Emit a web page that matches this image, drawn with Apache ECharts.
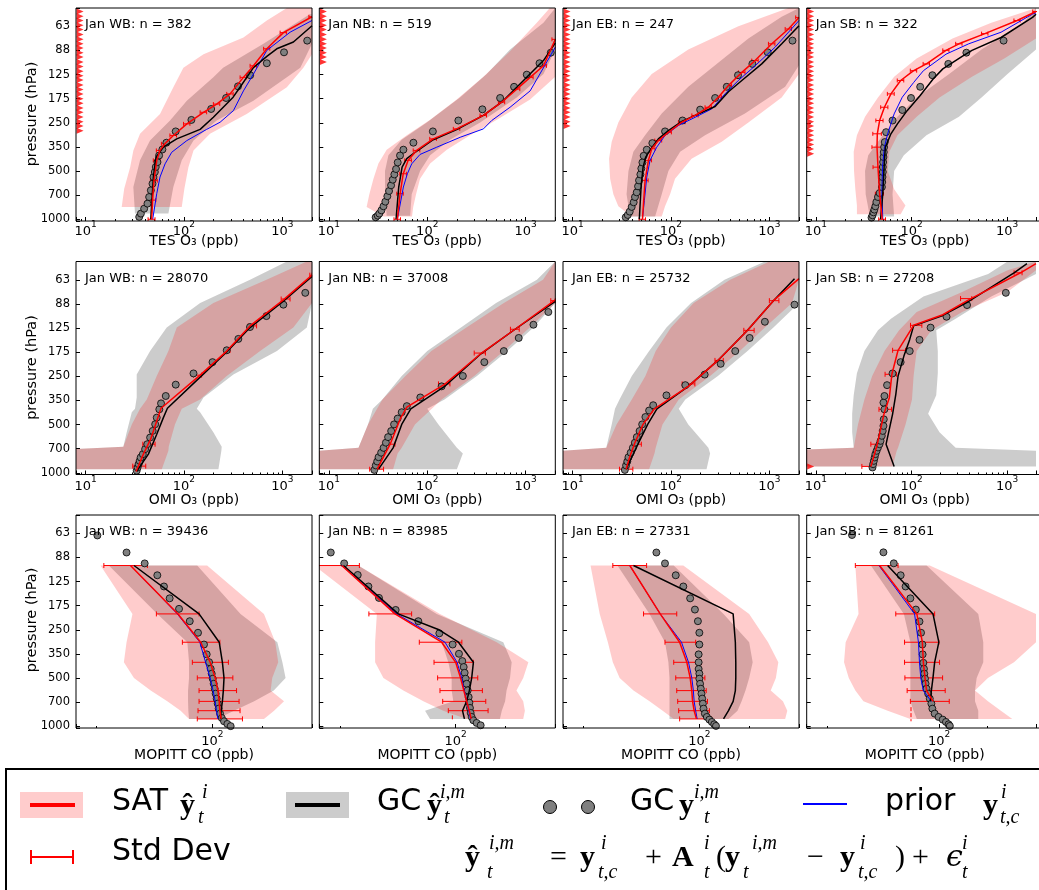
<!DOCTYPE html>
<html><head><meta charset="utf-8">
<script src="https://cdn.jsdelivr.net/npm/echarts@6/dist/echarts.min.js"></script>
<style>html,body{margin:0;padding:0;background:#fff}#c{width:1039px;height:890px}</style>
</head><body><div id="c"></div><script>
// ---------------- data ----------------
const REGIONS = ['WB', 'NB', 'EB', 'SB'];
const N_TES = [382, 519, 247, 322];
const N_OMI = [28070, 37008, 25732, 27208];
const N_MOP = [39436, 83985, 27331, 81261];
const P_TICKS = ['63', '88', '125', '175', '250', '350', '500', '700', '1000'];
const X_NAMES = ['TES O\u2083 (ppb)', 'OMI O\u2083 (ppb)', 'MOPITT CO (ppb)'];
const MINOR_TES = [9, 20, 30, 40, 50, 60, 70, 80, 90, 200, 300, 400, 500, 600, 700, 800, 900];
const MINOR_MOP = [20, 200];

// TES: SAT line [x, p, std]
const TES_SAT = [
 [[47,1000,3.8],[48,760,3.8],[49.6,575,4],[53,430,4.2],[57,373,4.6],[64,339,5],[78,301,6],[107,255,8],[158,216,12],[215,192,16],[294,166,22],[402,131,30],[508,111,38],[695,87,50],[1024,69,75],[2000,55,140]],
 [[49.7,1000,3.8],[53,693,4],[57,521,4.4],[64,430,5],[78,373,6],[115,316,9],[199,274,15],[372,226,28],[570,187,42],[812,155,60],[1110,131,80],[1516,111,110],[2000,76,150]],
 [[51.3,1000,3.8],[54.6,573,4],[59,430,4.5],[63.8,364,5],[74.5,324,6],[94,288,7],[129,249,10],[176,226,13],[240,201,18],[303,174,23],[384,147,29],[525,122,40],[716,103,54],[1058,81,80],[1562,65.5,115],[2000,55.5,150]],
 [[49.3,1000,4],[46.3,693,4.5],[44.5,474,5],[43.5,356,5],[43.8,294,4.5],[46.3,243,4],[52,201,4.5],[60.8,166,5],[76.8,137,6],[105,119,8],[143,108,11],[229,89,17],[313,81,24],[584,70,45],[1271,58,95],[2000,51,150]]
];
const TES_GC_LINE = [
 [[46,1000],[48.9,546],[52,411],[61.8,356],[84.4,316],[146,276],[199,232],[316,174],[371,151],[508,114],[695,97],[877,87],[1295,79],[2000,62.5]],
 [[48.2,1000],[51.3,630],[55.5,474],[61.9,420],[75.2,383],[115,320],[199,277],[372,226],[570,187],[812,151],[1516,103],[2000,80]],
 [[47.7,1000],[49.7,630],[52.1,474],[55.4,411],[62.8,364],[74.5,316],[94.2,281],[129,246],[190,221],[281,199],[384,161],[525,137],[836,108],[1336,81],[2000,62.5]],
 [[47.4,1000],[50,693],[52,430],[53.2,356],[60.8,294],[71.1,255],[89.8,211],[123,170],[168,134],[212,116],[338,97],[428,89],[862,74],[1839,55.5],[2000,53]]
];
const TES_PRIOR = [
 [[48.1,1000],[52.9,693],[57.1,546],[64.3,452],[75.1,383],[107,324],[170,276],[233,249],[318,211],[402,159],[508,125],[695,89],[1198,68.6],[2000,58]],
 [[49.7,1000],[57.2,630],[62.8,521],[69.5,452],[84.5,395],[125,356],[216,309],[372,274],[452,243],[694,201],[1110,159],[2000,85]],
 [[51.3,1000],[53.7,762],[56.8,546],[61.3,430],[71.7,356],[87.1,301],[119,261],[176,232],[259,206],[354,166],[484,137],[716,111],[1143,85],[2000,58]],
 [[50,1000],[48.9,693],[49.6,474],[52,356],[56.2,294],[65.7,221],[79.9,174],[105,141],[133,119],[229,94],[396,81],[862,68.6],[1839,52.9],[2000,52]]
];
const TES_GC_PTS = [
 [[35.1,967],[36.5,922],[39.4,859],[42.6,799],[44.3,727],[46.1,661],[47.9,601],[49,546],[50.6,508],[51.7,473],[53.8,441],[55.9,401],[60.4,368],[66.3,334],[82.4,284],[119,241],[189,206],[268,176],[354,149],[471,127],[695,107],[1039,91.5],[1788,77.4]],
 [[29.9,972],[31.4,949],[32.6,922],[34.2,880],[35.9,830],[37.5,777],[39.3,719],[40.9,667],[42.9,615],[44.6,567],[46.3,526],[48.2,487],[50.1,443],[52.9,401],[57.2,369],[72.3,334],[114,284],[207,243],[363,207],[550,176],[762,150],[1026,126],[1382,107],[1800,92]],
 [[34.7,972],[36.4,940],[38.1,896],[39.9,838],[41.8,784],[43.1,727],[44.9,680],[46.3,624],[47.4,573],[48.9,526],[50,483],[51.3,443],[52.8,403],[56.8,369],[64.7,336],[87.1,284],[131,243],[198,208],[281,176],[369,150],[480,127],[672,108],[962,91.5],[1717,77.4]],
 [[38.1,976],[39,944],[39.9,905],[40.8,871],[41.8,830],[42.8,781],[44.5,727],[46.3,687],[48.9,630],[49.3,587],[49.6,546],[50,508],[50,473],[50.4,441],[50.8,410],[51.2,382],[51.6,356],[52.4,331],[54.1,287],[63.2,243],[79.9,209],[98.6,176],[123,150],[165,127],[242,108],[374,92],[916,77.4]]
];
// bands: [p, low, high]
const TES_SAT_BAND = [
 [[838,23.3,95],[645,24.7,101],[474,28.4,111],[373,30.6,125],[294,35.8,184],[221,57.1,434],[151,78,1110],[114,98.7,1634],[94,158,2000],[74,402,2000],[58,695,2000],[48.5,1110,2000]],
 [[960,36,70],[840,24.2,72],[700,25.8,77],[560,28.4,84.5],[450,31.9,107],[370,38.7,158],[300,61.9,272],[240,107,510],[180,199,1110],[130,372,2000],[90,694,2000],[60,1297,2000],[48.5,1760,2000]],
 [[960,39.9,80.6],[830,29.2,87.1],[700,26,98],[560,24.1,110],[420,23.5,162],[330,25,328],[250,29.2,612],[175,39.9,1333],[125,63.8,2000],[88,150,2000],[63,484,2000],[48.5,1562,2000]],
 [[930,26.8,76.9],[820,26.8,86.3],[650,25.8,65.8],[500,25,56.3],[380,24.8,58.5],[300,26.8,71.1],[230,32.6,113],[175,44.5,196],[130,65.7,428],[100,113,932],[75,268,2000],[60,682,2000],[48.5,2000,2000]]
];
const TES_GC_BAND = [
 [[922,31.8,69.5],[630,30.6,78],[430,35.8,95],[324,45.2,125],[243,72.2,215],[183,107,508],[131,199,1110],[114,250,1520],[81,642,2000],[53,1900,2000]],
 [[950,38.7,67],[700,37.2,69.5],[500,37.2,84.5],[400,40.3,107],[320,55,170],[250,99,345],[175,215,812],[125,402,1516],[88,694,2000],[60,1516,2000],[48.5,2000,2000]],
 [[960,38.4,69],[700,35.4,80.6],[500,37,94.2],[380,41.5,124],[300,54.6,222],[220,80.6,565],[150,150,1447],[110,281,2000],[75,612,2000],[55,1333,2000],[48.5,2000,2000]],
 [[960,36.6,65.7],[700,33.1,63.2],[500,32.6,65.7],[400,35.2,83],[300,50,143],[230,71.1,313],[175,113,539],[125,247,1007],[88,539,2000],[60,1480,2000],[48.5,2000,2000]]
];
// pressures of off-scale retrievals (drawn as triangles at the left edge)
const TES_OFFSCALE = [
 [51,54.5,58,62,66,71,76,81,86,92,98,105,112,120,128,136,146,156,166,178,190,203,216,231,247,263,281],
 [51,54.5,58,62,66,71,76,81,86,92,98,105],
 [51,54.5,58,62,66,71,76,81,86,92,98,105,112,120,128,136,146,156,166,178,190,203,216,231,247,263],
 [51,54.5,58,62,66,71,76,81,86,92,98,105,112,120,128,136,146,156,166,178,190,203,216,231,247,263,281,300,321,343,366,391]
];

// OMI
const OMI_SAT = [
 [[32.6,981],[38.7,766],[45.9,618],[52.9,476],[58.5,397],[146,247],[272,175],[469,122],[1024,84],[2000,59]],
 [[31,950],[42,664],[53,464],[62,391],[151,281],[344,183],[780,128],[2000,84]],
 [[35,950],[38,800],[43,650],[52,500],[68,400],[150,290],[300,200],[600,130],[1100,85],[2000,62]],
 [[37.5,913],[43.8,664],[51.3,433],[58.5,341],[62.2,244],[72.2,173],[105,121],[212,104],[395,84],[1375,57],[2000,50]]
];
const OMI_GC_LINE = [
 [[33.1,981],[43.5,766],[52.9,576],[61.8,454],[67.9,397],[146,254],[272,177],[469,125],[1024,85.5],[2000,60]],
 [[32,950],[45,700],[55,500],[68,400],[150,290],[340,185],[780,128],[2000,86]],
 [[35,950],[40,800],[47,650],[58,500],[72,400],[150,290],[300,200],[600,130],[1100,85],[1800,62]],
 [[65.7,913],[54.1,664],[63.2,433],[68.4,325],[72.2,250],[83.1,188],[95.6,148],[105,122],[212,105],[395,86],[1178,57],[1608,50]]
];
const OMI_GC_PTS = [
 [[33.1,971],[33.8,927],[34.6,884],[35.5,843],[36.3,803],[38.2,766],[40.3,713],[42.4,664],[45.3,604],[48.1,549],[51,499],[52.9,454],[56.2,403],[58.5,370],[65.3,333],[82.5,283],[125,241],[195,205],[272,173],[357,147],[469,124],[689,106],[1024,90],[1709,76]],
 [[29,960],[30,900],[31,850],[32,800],[34,750],[36,700],[38,650],[40,600],[43,550],[46,500],[50,460],[55,420],[62,385],[85,340],[140,290],[230,250],[380,205],[600,175],[850,145],[1200,120],[1700,100]],
 [[34,960],[35,900],[36,850],[37,800],[39,750],[41,700],[43,650],[45,600],[48,550],[51,500],[55,450],[60,410],[66,380],[90,330],[140,285],[220,245],[320,210],[450,175],[630,145],[900,115],[1800,90]],
 [[39,927],[39.6,884],[40.3,843],[41.1,803],[41.8,766],[43.1,730],[44.5,696],[46.2,664],[47.4,633],[48.8,589],[49.9,549],[50.8,511],[51.2,465],[52,403],[50.8,366],[52,333],[55.4,285],[63.2,241],[76.8,205],[95.6,175],[121,149],[158,125],[232,107],[380,90.5],[967,76]]
];
const OMI_SAT_BAND = [
 [[950,3,59.5],[730,3,69.5],[690,24.2,70],[500,29.5,81],[400,35.8,95],[350,41.9,146],[250,52.9,272],[175,69.5,594],[125,84.5,1293],[88,199,2000],[63,689,2000],[48.5,1770,2000]],
 [[950,3,45],[760,3,50],[700,20,55],[500,25,75],[350,35,140],[250,60,300],[175,110,600],[125,250,1100],[88,600,2000],[63,1500,2000],[48.5,2000,2000]],
 [[950,3,60],[760,3,68],[700,22,70],[500,28,82],[350,40,120],[250,55,250],[175,70,500],[125,100,900],[88,170,1700],[63,400,2000],[48.5,1000,2000]],
 [[913,3,63.2],[730,3,69.9],[700,24.8,72.2],[500,27.5,86.4],[350,32.1,101],[250,38.7,105],[175,52.1,113],[130,74,161],[100,113,338],[75,338,1008],[55,1008,2000],[48.5,2000,2000]]
];
const OMI_GC_BAND = [
 [[950,3,224],[730,3,240],[690,24.2,242],[560,26.2,199],[420,29.5,146],[400,31.8,135],[340,33.1,158],[245,33.1,318],[175,45.3,881],[125,66.8,1773],[88,146,2000],[63,469,2000],[48.5,1110,2000]],
 [[950,3,200],[760,3,230],[700,20,200],[500,25,130],[400,28,100],[350,35,150],[250,55,320],[175,100,650],[125,220,1200],[88,500,2000],[63,1300,2000],[48.5,2000,2000]],
 [[950,3,230],[760,3,250],[700,22,240],[500,25,150],[400,27,120],[350,30,140],[250,40,300],[175,60,600],[125,90,1100],[88,160,2000],[63,350,2000],[48.5,900,2000]],
 [[913,3,2000],[730,3,2000],[700,24.8,289],[560,23.9,196],[430,23.9,149],[330,24.8,181],[240,26.8,188],[175,32.1,188],[130,44.5,181],[110,60.8,289],[80,133,682],[58,632,2000],[48.5,1008,2000]]
];
// error bars [p, low, high]
const OMI_ERR = [
 [[909,30.2,40.9],[664,38.2,50.9],[247,125,151],[173,262,294],[122,451,547],[83,972,1197],[59,1900,2000]],
 [[950,26,36],[664,38,47],[280,130,170],[180,300,390],[128,700,860],[85,1800,2000]],
 [[950,30,41],[664,40,50],[280,130,175],[200,280,340],[130,550,700],[85,1000,1250]],
 [[913,30.2,38.7],[664,37.5,44.5],[403,45.6,61.8],[244,52.8,69.6],[173,63.3,86.5],[121,97.4,128],[82.5,325,426],[57,1180,1430]]
];
const OMI_OFFSCALE = [[], [], [], [913]];

// MOPITT
const MOP_LEV = [100, 200, 300, 400, 500, 600, 700, 800, 900];
const MOP_SAT = [
 [32, 62, 85, 97, 104, 108, 110, 111, 113],
 [20.5, 43, 82.3, 100, 107, 112, 116.5, 121, 124],
 [38, 58, 76, 84, 88, 90, 91, 93, 96],
 [42.6, 72.6, 78.6, 79.7, 81.6, 83.5, 91.5, null, null]
];
const MOP_ERR = [
 [[22.1,40.5],[45.9,83.1],[65.9,111],[75.7,125],[81.1,133],[83.1,140],[83.1,145],[81.9,147],[81.1,152]],
 [[14,26.2],[29.9,54.2],[60.3,109],[74,128],[77.8,136],[80.4,145],[83.5,152],[90.3,157],null],
 [[30,48],[46,73],[62,95],[70,103],[72,108],[73,110],[74,112],[75,115],[76,118]],
 [[30.1,55.5],[53.7,93.7],[60.9,99.5],[60.9,100.5],[61.2,105],[63.2,109],[66.2,115.5],null,null]
];
const MOP_SAT_DASH = [[], [[95.5,855],[95.5,931]], [], [[66.8,760],[66.8,931]]];
const MOP_GC_LINE = [
 [[33.6,100],[83.1,200],[110,300],[115,400],[117.6,500],[116.5,600],[115,700],[113,800],[112,900]],
 [[21,100],[45,200],[78.6,250],[104,300],[128,400],[125,500],[121,600],[116.5,700],[110,800],[113,900]],
 [[40,100],[160,200],[165,300],[166,400],[166,500],[165,600],[160,700],[150,800],[140,900]],
 [[47.8,100],[91.5,200],[99.5,300],[93.7,400],[91.5,500],[89.4,600],[88.2,700]]
];
const MOP_PRIOR = [
 [[32.1,100],[61.4,200],[84,300],[91,400],[97,500],[101,600],[104,700],[106,800],[108,900]],
 [[20.5,100],[44,200],[86.2,300],[102,400],[108.7,500],[112.8,600],[116.5,700],[120,800],[123,900]],
 [[38,100],[58,200],[78,300],[86,400],[90,500],[92,600],[93,700],[95,800],[97,900]],
 [[42.2,100],[70.3,200],[74.3,300],[75.4,400],[76.8,500],[79.7,600],[89.4,700]]
];
const MOP_GC_PTS = [
 [[20.2,65],[30.3,83],[39,97],[46.5,115],[51,135],[55.2,160],[62.9,186],[73,222],[81.9,262],[89,310],[92.4,357],[95.5,399],[97.7,439],[99.1,471],[100.5,506],[101.9,544],[103.3,584],[104.7,627],[106.2,673],[107.7,723],[109.2,777],[111.3,834],[114,888],[117.6,931],[123.2,967],[129,998]],
 [[17.6,83],[21.2,97],[25.6,114.5],[29.7,135],[34.4,159],[43.4,189],[59.5,222],[79.7,264],[95.9,310],[104.7,354],[109.7,393],[111.8,428],[113.3,465],[114.9,506],[116.5,544],[118.2,598],[119.8,658],[121,713],[122,769],[123.2,826],[124.9,875],[127.9,918],[133.9,953],[141.6,986]],
 [[55,83],[62,97],[72,115],[80,135],[88,160],[94,188],[98,222],[100,262],[100,310],[99,357],[99,400],[99,440],[100,470],[100,506],[101,544],[102,584],[103,627],[104,673],[105,723],[106,777],[108,834],[111,875],[115,909],[119,940],[123,972],[126,995]],
 [[28.7,64.6],[45,82.8],[52.2,96.9],[57.6,115],[61.8,135],[66.2,160],[71.6,188],[75.4,223],[77.1,262],[78.6,310],[78.9,357],[79.7,403],[80.4,439],[80.8,471],[81.6,506],[82.3,544],[83.5,584],[85.4,627],[87.4,673],[89.4,723],[90.7,777],[93.7,834],[99.1,875],[105.2,909],[110.2,940],[114.4,972],[116.5,995]]
];
const MOP_SAT_BAND = [
 [[100,21.1,93],[200,32.9,205],[300,30.3,240],[400,29.2,250],[500,33.6,230],[600,42.4,225],[700,53.4,271],[800,64.3,236],[900,72.3,205]],
 [[100,14,25.8],[200,33.4,80.4],[300,32.6,177],[400,32.6,275],[500,36.6,256],[600,48.3,233],[700,63.8,256],[800,84.2,262],[900,116.5,256]],
 [[100,22,80],[200,25,200],[300,28,260],[400,30,300],[500,33,290],[600,40,270],[700,50,320],[800,60,340],[900,70,330]],
 [[100,30.1,87.4],[200,31.5,400],[300,26.2,400],[400,25.6,292],[500,27.4,201],[600,30.1,167],[700,33.8,201],[800,47.8,242],[900,66.2,285]]
];
const MOP_GC_BAND = [
 [[100,23.7,81],[200,46.5,148],[300,70.6,247],[400,72.3,265],[500,72.3,277],[600,71.3,235],[700,71.3,179],[800,71.6,135],[900,72.3,107]],
 [[100,20.5,25.8],[200,43,76.8],[300,82.3,194],[400,90.3,218],[500,94.6,213],[600,94.6,203],[700,96.8,199],[800,65.3,190],[900,70,185]],
 [[100,32,70],[200,50,140],[300,62,200],[400,65,210],[500,66,200],[600,66,190],[700,66,180],[800,66,170],[900,66,150]],
 [[100,37.6,83.5],[200,60.3,175],[300,66.2,188],[400,66.2,188],[500,66.2,171],[600,66.2,167],[700,66.2,167],[800,69.3,175],[900,72.6,175]]
];

// ---------------- layout ----------------
const SANS = 'DejaVu Sans';
const SERIF = 'Liberation Serif';
const COL_X = [76, 319.3, 563, 806.7];
const ROW_Y = [8, 261.5, 515];
const PW = 236, PH = 213;
const X_RANGE = [[8, 2000], [8, 2000], [15, 400]];
const Y_MIN = 48.5, Y_MAX = 1025;
const LB = Math.pow(10, 0.15);
const XLAB_MARGIN = [-1, 1, 2];
const XNAME_Y = [241, 500, 755];
const YNAME_Y = [114, 367.5, 620];
const TRI_X = 8.8;

function pLabel(v) {
  const k = Math.log10(v) / 0.15, r = Math.round(k);
  if (Math.abs(k - r) > 0.02 || r < 12 || r > 20) return '';
  return P_TICKS[r - 12];
}
function powLabel(v) {
  const e = Math.log10(v), r = Math.round(e);
  if (Math.abs(e - r) > 1e-3) return '';
  return '{b|10}{s|' + r + '}';
}
const RICH = {
  b: {fontSize: 13, fontFamily: SANS, color: '#000', lineHeight: 18, verticalAlign: 'bottom'},
  s: {fontSize: 9, fontFamily: SANS, color: '#000', lineHeight: 8, verticalAlign: 'top'}
};

function bandS(gi, band, fill) {
  const pts = band.map(b => [b[1], b[0]]).concat(band.slice().reverse().map(b => [b[2], b[0]]));
  return {type: 'custom', xAxisIndex: gi * 2, yAxisIndex: gi, data: pts, encode: {x: 0, y: 1},
    clip: true, silent: true, animation: false,
    renderItem: function (params, api) {
      if (params.dataIndex !== 0) return null;
      return {type: 'polygon', shape: {points: pts.map(d => api.coord(d))}, style: {fill: fill}};
    }};
}
function errS(gi, errs, cap) {
  return {type: 'custom', xAxisIndex: gi * 2, yAxisIndex: gi, data: errs, encode: {x: [0, 2], y: 1},
    clip: true, silent: true, animation: false,
    renderItem: function (params, api) {
      const p = api.value(1);
      const a = api.coord([api.value(0), p]), b = api.coord([api.value(2), p]);
      const st = () => ({stroke: '#ff0000', lineWidth: 1});
      return {type: 'group', children: [
        {type: 'line', shape: {x1: a[0], y1: a[1], x2: b[0], y2: b[1]}, style: st()},
        {type: 'line', shape: {x1: a[0], y1: a[1] - cap, x2: a[0], y2: a[1] + cap}, style: st()},
        {type: 'line', shape: {x1: b[0], y1: b[1] - cap, x2: b[0], y2: b[1] + cap}, style: st()}
      ]};
    }};
}
function lineS(gi, data, color, width, dashed) {
  return {type: 'line', xAxisIndex: gi * 2, yAxisIndex: gi, data: data, symbol: 'none', showSymbol: false,
    lineStyle: {color: color, width: width, type: dashed ? 'dashed' : 'solid'}, itemStyle: {color: color},
    clip: true, silent: true, animation: false};
}
function dotS(gi, data) {
  return {type: 'scatter', xAxisIndex: gi * 2, yAxisIndex: gi, data: data, symbol: 'circle', symbolSize: 7,
    itemStyle: {color: '#808080', borderColor: '#000', borderWidth: 0.8, opacity: 1}, silent: true, animation: false};
}
function triS(gi, ps) {
  return {type: 'scatter', xAxisIndex: gi * 2, yAxisIndex: gi, data: ps.map(p => [TRI_X, p]), symbol: 'triangle',
    symbolRotate: -90, symbolSize: [6, 7], itemStyle: {color: '#ff0000'}, silent: true, animation: false, clip: false};
}
function txt(x, y, text, size, extra) {
  return {type: 'text', x: x, y: y, z: 100, silent: true,
    style: Object.assign({text: text, fontSize: size, fontFamily: SANS, fill: '#000',
      textAlign: 'left', textVerticalAlign: 'middle', align: 'left', verticalAlign: 'middle'}, extra || {})};
}

const grids = [], xAxes = [], yAxes = [], series = [], graphics = [];
for (let r = 0; r < 3; r++) {
  for (let c = 0; c < 4; c++) {
    const gi = r * 4 + c;
    const L = COL_X[c], T = ROW_Y[r];
    grids.push({left: L, top: T, width: PW, height: PH, show: false});
    const xr = X_RANGE[r];
    xAxes.push({type: 'log', logBase: 10, gridIndex: gi, min: xr[0], max: xr[1], position: 'bottom',
      axisLine: {show: false}, axisTick: {show: true, inside: true, length: 4, lineStyle: {color: '#000'}},
      axisLabel: {show: true, margin: XLAB_MARGIN[r], formatter: powLabel, rich: RICH}, splitLine: {show: false}});
    xAxes.push({type: 'value', gridIndex: gi, min: Math.log10(xr[0]), max: Math.log10(xr[1]), position: 'bottom',
      axisLine: {show: false},
      axisTick: {show: true, inside: true, length: 2, customValues: (r < 2 ? MINOR_TES : MINOR_MOP).map(Math.log10), lineStyle: {color: '#000'}},
      axisLabel: {show: false}, splitLine: {show: false}});
    yAxes.push({type: 'log', logBase: LB, gridIndex: gi, inverse: true, min: Y_MIN, max: Y_MAX,
      axisLine: {show: false}, axisTick: {show: true, inside: true, length: 4, lineStyle: {color: '#000'}},
      axisLabel: {show: c === 0, formatter: pLabel, fontSize: 11.5, fontFamily: SANS, color: '#000', margin: 6},
      splitLine: {show: false}});

    let sat, gc, prior, pts, sband, gband, errs, tri, cap, nval, dash = [];
    if (r === 0) {
      sat = TES_SAT[c].map(d => [d[0], d[1]]);
      errs = TES_SAT[c].map(d => [d[0] - d[2], d[1], d[0] + d[2]]);
      gc = TES_GC_LINE[c]; prior = TES_PRIOR[c]; pts = TES_GC_PTS[c];
      sband = TES_SAT_BAND[c]; gband = TES_GC_BAND[c]; tri = TES_OFFSCALE[c]; cap = 2; nval = N_TES[c];
    } else if (r === 1) {
      sat = OMI_SAT[c]; errs = OMI_ERR[c].map(e => [e[1], e[0], e[2]]);
      gc = OMI_GC_LINE[c]; prior = []; pts = OMI_GC_PTS[c];
      sband = OMI_SAT_BAND[c]; gband = OMI_GC_BAND[c]; tri = OMI_OFFSCALE[c]; cap = 2.5; nval = N_OMI[c];
    } else {
      sat = MOP_SAT[c].map((v, i) => v == null ? null : [v, MOP_LEV[i]]).filter(Boolean);
      errs = [];
      MOP_ERR[c].forEach((e, i) => { if (e) errs.push([e[0], MOP_LEV[i], e[1]]); });
      gc = MOP_GC_LINE[c]; prior = MOP_PRIOR[c]; pts = MOP_GC_PTS[c];
      sband = MOP_SAT_BAND[c]; gband = MOP_GC_BAND[c]; tri = []; cap = 2.5; nval = N_MOP[c];
      dash = MOP_SAT_DASH[c];
    }
    series.push(bandS(gi, gband, 'rgba(0,0,0,0.2)'));
    series.push(bandS(gi, sband, 'rgba(255,0,0,0.2)'));
    if (prior.length) series.push(lineS(gi, prior, '#0000ff', 1));
    series.push(lineS(gi, gc, '#000000', 1.5));
    series.push(lineS(gi, sat, '#ff0000', 1.5));
    if (dash.length) series.push(lineS(gi, dash, '#ff0000', 1, true));
    series.push(errS(gi, errs, cap));
    series.push(dotS(gi, pts));
    if (tri.length) series.push(triS(gi, tri));

    graphics.push({type: 'rect', z: 100, silent: true, shape: {x: L, y: T, width: PW, height: PH},
      style: {fill: 'none', stroke: '#000', lineWidth: 1}});
    graphics.push(txt(L + 9, T + 17, 'Jan ' + REGIONS[c] + ': n = ' + nval, 13));
    graphics.push(txt(L + PW / 2, XNAME_Y[r], X_NAMES[r], 14, {textAlign: 'center', align: 'center'}));
  }
  graphics.push(Object.assign(txt(32, YNAME_Y[r], 'pressure (hPa)', 14.5, {textAlign: 'center', align: 'center'}), {rotation: Math.PI / 2}));
}

// ---------------- legend ----------------
const BIG = 30, SUP = 20;
function base(x, y, s) { return txt(x, y, s, BIG, {fontFamily: SERIF, fontWeight: 'bold'}); }
function sm(x, y, s) { return txt(x, y, s, SUP, {fontFamily: SERIF, fontStyle: 'italic'}); }
function op(x, y, s) { return txt(x, y, s, BIG, {fontFamily: SERIF}); }
const R1 = 802, R1M = 806, R1S = 793, R1B = 818;
const R2 = 852, R2M = 858, R2S = 844, R2B = 873;
graphics.push({type: 'rect', z: 100, silent: true, shape: {x: 6, y: 769, width: 1060, height: 140}, style: {fill: '#fff', stroke: '#000', lineWidth: 2}});
graphics.push({type: 'rect', z: 101, silent: true, shape: {x: 20, y: 792, width: 63, height: 26}, style: {fill: 'rgba(255,0,0,0.2)'}});
graphics.push({type: 'line', z: 102, silent: true, shape: {x1: 30, y1: 805, x2: 75, y2: 805}, style: {stroke: '#ff0000', lineWidth: 4}});
graphics.push(txt(112, R1, 'SAT', BIG));
graphics.push(base(180, R1M, '\u0177'), sm(202, R1S, 'i'), sm(198, R1B, 't'));
graphics.push({type: 'rect', z: 101, silent: true, shape: {x: 286, y: 792, width: 63, height: 26}, style: {fill: '#cccccc'}});
graphics.push({type: 'line', z: 102, silent: true, shape: {x1: 295, y1: 805, x2: 340, y2: 805}, style: {stroke: '#000', lineWidth: 4}});
graphics.push(txt(377, R1, 'GC', BIG));
graphics.push(base(427, R1M, '\u0177'), sm(440, R1S, 'i,m'), sm(444, R1B, 't'));
graphics.push({type: 'circle', z: 102, silent: true, shape: {cx: 550, cy: 807, r: 6.5}, style: {fill: '#808080', stroke: '#000', lineWidth: 1}});
graphics.push({type: 'circle', z: 102, silent: true, shape: {cx: 588, cy: 807, r: 6.5}, style: {fill: '#808080', stroke: '#000', lineWidth: 1}});
graphics.push(txt(630, R1, 'GC', BIG));
graphics.push(base(679, R1M, 'y'), sm(694, R1S, 'i,m'), sm(704, R1B, 't'));
graphics.push({type: 'line', z: 102, silent: true, shape: {x1: 803, y1: 804, x2: 847, y2: 804}, style: {stroke: '#0000ff', lineWidth: 2}});
graphics.push(txt(885, R1, 'prior', BIG));
graphics.push(base(983, R1M, 'y'), sm(1001, R1S, 'i'), sm(1000, R1B, 't,c'));
graphics.push({type: 'line', z: 102, silent: true, shape: {x1: 31, y1: 857, x2: 73, y2: 857}, style: {stroke: '#ff0000', lineWidth: 2}});
graphics.push({type: 'line', z: 102, silent: true, shape: {x1: 31, y1: 850, x2: 31, y2: 864}, style: {stroke: '#ff0000', lineWidth: 2}});
graphics.push({type: 'line', z: 102, silent: true, shape: {x1: 73, y1: 850, x2: 73, y2: 864}, style: {stroke: '#ff0000', lineWidth: 2}});
graphics.push(txt(112, R2, 'Std Dev', BIG));
graphics.push(base(465, R2M, '\u0177'), sm(489, R2S, 'i,m'), sm(487, R2B, 't'));
graphics.push(op(550, R2M, '='));
graphics.push(base(580, R2M, 'y'), sm(601, R2S, 'i'), sm(598, R2B, 't,c'));
graphics.push(op(645, R2M, '+'));
graphics.push(base(672, R2M, 'A'), sm(704, R2S, 'i'), sm(704, R2B, 't'));
graphics.push(op(716, R2M, '('));
graphics.push(base(725, R2M, 'y'), sm(752, R2S, 'i,m'), sm(743, R2B, 't'));
graphics.push(op(807, R2M, '\u2212'));
graphics.push(base(840, R2M, 'y'), sm(860, R2S, 'i'), sm(858, R2B, 't,c'));
graphics.push(op(895, R2M, ')'));
graphics.push(op(912, R2M, '+'));
graphics.push(txt(946, R2M, '\u03F5', BIG, {fontFamily: 'DejaVu Serif', fontStyle: 'italic'}), sm(962, R2S, 'i'), sm(962, R2B, 't'));

const chart = echarts.init(document.getElementById('c'), null, {renderer: 'canvas'});
chart.setOption({
  backgroundColor: '#ffffff',
  animation: false,
  grid: grids, xAxis: xAxes, yAxis: yAxes, series: series,
  graphic: {elements: graphics}
});
</script></body></html>
